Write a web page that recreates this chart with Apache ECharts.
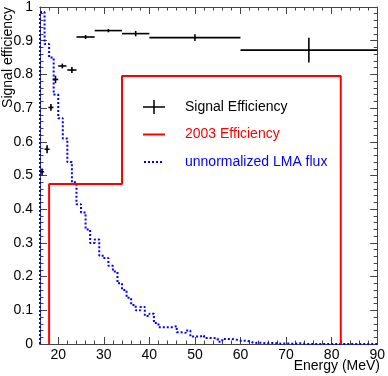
<!DOCTYPE html>
<html>
<head>
<meta charset="utf-8">
<script src="https://cdn.jsdelivr.net/npm/echarts@6/dist/echarts.min.js"></script>
<style>
  html, body { margin: 0; padding: 0; background: #fff; }
  #chart { width: 388px; height: 376px; }
</style>
</head>
<body>
<div id="chart"></div>
<script>
// signal efficiency points (x, y, half-width in x, error in y)
const effX    = [16.45, 17.55, 18.4, 19.4, 20.9, 23.0, 26, 31, 37, 50, 75];
const effY    = [0.511, 0.578, 0.702, 0.785, 0.825, 0.813, 0.911, 0.930, 0.921, 0.909, 0.872];
const effXErr = [0.45, 0.55, 0.55, 0.6, 0.9, 1.0, 2, 3, 3, 10, 15];
const effYErr = [0.010, 0.012, 0.010, 0.011, 0.007, 0.009, 0.006, 0.005, 0.008, 0.010, 0.037];

// 2003 efficiency histogram: bin edges and contents
const effEdges2003  = [18, 34, 82];
const effValues2003 = [0.475, 0.795];

// unnormalized LMA flux, 1 MeV bins starting at 16 MeV
const fluxStart = 16;
const fluxWidth = 1;
const fluxValues = [
  0.985, 0.89, 0.85, 0.74, 0.67, 0.61, 0.54, 0.48, 0.415, 0.39,
  0.34, 0.30, 0.31, 0.262, 0.255, 0.232, 0.215, 0.18, 0.16, 0.137,
  0.116, 0.10, 0.11, 0.083, 0.09, 0.062, 0.05, 0.05, 0.05, 0.053,
  0.035, 0.033, 0.04, 0.022, 0.022, 0.025, 0.018, 0.018, 0.016, 0.007,
  0.015, 0.015, 0.013, 0.01, 0.01, 0.008, 0.003, 0.004, 0.003, 0.002,
  0.003, 0.002, 0.001, 0.002, 0.001, 0.001, 0.002, 0.001, 0, 0,
  0, 0, 0, 0, 0, 0, 0, 0, 0, 0,
  0, 0, 0, 0
];

const FONT = 'Liberation Sans, Arial, sans-serif';
const AXIS_COLOR = '#444';

// step outlines for the histograms
function stepPoints(edges, values) {
  const pts = [[edges[0], 0]];
  for (let i = 0; i < values.length; i++) {
    pts.push([edges[i], values[i]]);
    pts.push([edges[i + 1], values[i]]);
  }
  pts.push([edges[edges.length - 1], 0]);
  return pts;
}

const fluxEdges = [];
for (let i = 0; i <= fluxValues.length; i++) fluxEdges.push(fluxStart + i * fluxWidth);

const errData = effX.map((x, i) => [x, effY[i], effXErr[i], effYErr[i]]);

function renderErr(params, api) {
  const x = api.value(0), y = api.value(1), ex = api.value(2), ey = api.value(3);
  const l = api.coord([x - ex, y]), r = api.coord([x + ex, y]);
  const t = api.coord([x, y + ey]), b = api.coord([x, y - ey]);
  const style = { stroke: '#000', lineWidth: 1.6 };
  return {
    type: 'group',
    children: [
      { type: 'line', shape: { x1: l[0], y1: l[1], x2: r[0], y2: r[1] }, style: style },
      { type: 'line', shape: { x1: t[0], y1: t[1], x2: b[0], y2: b[1] }, style: style }
    ]
  };
}

// x axes: minor (every 2) and major (every 10) ticks, bottom and top
function xAxisDef(position, major) {
  return {
    type: 'value', min: 16, max: 90, position: position,
    interval: major ? undefined : 2,
    splitNumber: major ? 7 : undefined,
    axisLine: { show: true, lineStyle: { color: AXIS_COLOR, width: 1 } },
    axisTick: { show: true, inside: true, length: major ? 7 : 3.5, lineStyle: { color: AXIS_COLOR } },
    axisLabel: {
      show: position === 'bottom' && !major,
      margin: 4, fontSize: 14, color: '#000', fontFamily: FONT,
      formatter: v => (v % 10 === 0 ? String(v) : '')
    },
    splitLine: { show: false }
  };
}

function yAxisDef(position) {
  return {
    type: 'value', min: 0, max: 1, interval: 0.1, position: position,
    axisLine: { show: true, lineStyle: { color: AXIS_COLOR, width: 1 } },
    axisTick: { show: true, inside: true, length: 7, lineStyle: { color: AXIS_COLOR } },
    minorTick: { show: true, splitNumber: 5, length: 3.5, lineStyle: { color: AXIS_COLOR } },
    axisLabel: {
      show: position === 'left',
      margin: 7, fontSize: 14, color: '#000', fontFamily: FONT
    },
    splitLine: { show: false },
    minorSplitLine: { show: false }
  };
}

const crossIcon = 'path://M0,6.25L22,6.25L22,7.75L0,7.75Z M10.25,0L11.75,0L11.75,14L10.25,14Z';
const corners = ' M0,0L0.01,0L0.01,0.01Z M21.99,13.99L22,13.99L22,14Z';
const lineIcon = 'path://M0,6L22,6L22,8L0,8Z' + corners;
const dotIcon = 'path://M1,6L3,6L3,8L1,8Z M5,6L7,6L7,8L5,8Z M9,6L11,6L11,8L9,8Z M13,6L15,6L15,8L13,8Z M17,6L19,6L19,8L17,8Z' + corners;

const chart = echarts.init(document.getElementById('chart'), null, { renderer: 'canvas' });

chart.setOption({
  animation: false,
  backgroundColor: '#fff',
  textStyle: { fontFamily: FONT },
  grid: { left: 40, right: 7, top: 7, bottom: 32, containLabel: false, show: false },
  xAxis: [
    xAxisDef('bottom', false),
    xAxisDef('bottom', true),
    xAxisDef('top', false),
    xAxisDef('top', true)
  ],
  yAxis: [
    yAxisDef('left'),
    yAxisDef('right')
  ],
  legend: {
    orient: 'vertical',
    left: 143, top: 100,
    padding: 0,
    itemWidth: 22, itemHeight: 14, itemGap: 13.5,
    itemStyle: { borderWidth: 0 },
    textStyle: { fontSize: 14, fontFamily: FONT, padding: [0, 0, 0, 15] },
    data: [
      { name: 'Signal Efficiency', icon: crossIcon, textStyle: { color: '#000' } },
      { name: '2003 Efficiency', icon: lineIcon, textStyle: { color: '#ff0000' } },
      { name: 'unnormalized LMA flux', icon: dotIcon, textStyle: { color: '#0000ff' } }
    ]
  },
  graphic: [
    {
      type: 'text', right: 8, top: 359,
      style: { text: 'Energy (MeV)', fontSize: 14, fontFamily: FONT, fill: '#000' }
    },
    {
      type: 'text', x: 8, y: 7, rotation: Math.PI / 2,
      style: {
        text: 'Signal efficiency', fontSize: 14, fontFamily: FONT, fill: '#000',
        align: 'right', verticalAlign: 'middle'
      }
    }
  ],
  series: [
    {
      name: 'unnormalized LMA flux',
      type: 'line',
      color: '#0000ff',
      data: stepPoints(fluxEdges, fluxValues),
      symbol: 'none',
      lineStyle: { color: '#0000ff', width: 2, type: 'dotted' },
      z: 2
    },
    {
      name: '2003 Efficiency',
      type: 'line',
      color: '#ff0000',
      data: stepPoints(effEdges2003, effValues2003),
      symbol: 'none',
      lineStyle: { color: '#ff0000', width: 2 },
      z: 3
    },
    {
      name: 'Signal Efficiency',
      type: 'custom',
      color: '#000',
      renderItem: renderErr,
      data: errData,
      encode: { x: 0, y: 1 },
      z: 4
    }
  ]
});
</script>
</body>
</html>
